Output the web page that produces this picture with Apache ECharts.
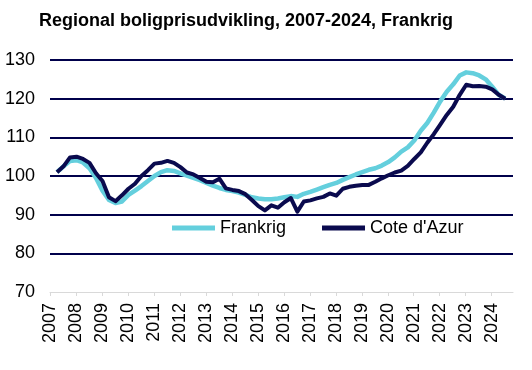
<!DOCTYPE html>
<html>
<head>
<meta charset="utf-8">
<script src="https://cdn.jsdelivr.net/npm/echarts@6/dist/echarts.min.js"></script>
<style>
html,body{margin:0;padding:0;background:#fff;}
#chart{width:532px;height:370px;}
</style>
</head>
<body>
<div id="chart"></div>
<script>
// Quarters 2007K1 .. 2024K2
const years = [2007,2008,2009,2010,2011,2012,2013,2014,2015,2016,2017,2018,2019,2020,2021,2022,2023,2024];
const quarters = [];
for (const y of years) for (let q = 1; q <= 4; q++) if (!(y === 2024 && q > 2)) quarters.push(y + 'K' + q);

const frankrig = [
  101.0,102.5,103.9,104.1,103.5,102.0,99.5,96.2,93.8,93.0,
  93.4,95.1,96.2,97.4,98.7,100.0,101.0,101.5,101.3,100.7,
  100.1,99.5,98.9,98.2,97.5,96.9,96.4,96.1,95.7,95.1,
  94.5,94.2,94.0,94.0,94.2,94.5,94.8,94.6,95.4,95.9,
  96.5,97.1,97.7,98.2,99.0,99.7,100.4,101.0,101.6,102.0,
  102.7,103.6,104.8,106.3,107.4,109.2,111.7,113.7,116.4,119.3,
  121.8,123.7,126.0,126.8,126.6,126.0,125.0,123.1,121.0,120.0
];
const coteDAzur = [
  101.0,102.5,104.8,105.0,104.4,103.4,100.7,98.7,94.5,93.5,
  95.0,96.7,98.0,100.0,101.5,103.2,103.4,103.9,103.4,102.3,
  100.9,100.4,99.5,98.5,98.4,99.3,96.8,96.4,96.1,95.3,
  93.8,92.2,91.1,92.4,91.8,93.2,94.3,90.8,93.4,93.7,
  94.2,94.6,95.5,94.9,96.7,97.2,97.5,97.7,97.7,98.5,
  99.4,100.2,100.9,101.4,102.6,104.4,106.1,108.6,110.8,113.3,
  115.8,117.9,121.0,123.6,123.2,123.3,123.1,122.4,121.0,120.0
];
const yTicks = [70,80,90,100,110,120,130];

function qTime(label) {
  const y = parseInt(label.slice(0,4), 10);
  const q = parseInt(label.slice(5), 10);
  return y + (q - 1) / 4 + 0.27;
}
const pairs = vals => quarters.map((q, i) => [qTime(q), vals[i]]);

const chart = echarts.init(document.getElementById('chart'), null, {renderer: 'canvas'});
const FONT = 'Liberation Sans, Arial, sans-serif';
chart.setOption({
  animation: false,
  backgroundColor: '#ffffff',
  title: {
    text: 'Regional boligprisudvikling, 2007-2024, Frankrig',
    left: 39, top: 12, padding: 0,
    textStyle: {fontFamily: FONT, fontSize: 18, fontWeight: 'bold', color: '#000'}
  },
  legend: {
    left: 172, top: 219, padding: 0,
    icon: 'rect',
    itemWidth: 43, itemHeight: 5, itemGap: 36,
    textStyle: {fontFamily: FONT, fontSize: 18, color: '#000', padding: [0,0,0,0]},
    data: ['Frankrig', "Cote d'Azur"]
  },
  grid: {left: 50, right: 19, top: 60, bottom: 78},
  xAxis: {
    type: 'value', min: 2007, max: 2024.82,
    splitLine: {show: false},
    axisLine: {show: true, lineStyle: {color: '#D9D9D9', width: 1}},
    axisTick: {show: true, inside: false, length: 4, customValues: years, lineStyle: {color: '#D9D9D9'}},
    axisLabel: {rotate: 90, margin: 11, customValues: years, formatter: v => String(v),
                fontFamily: FONT, fontSize: 18, color: '#000'},
    z: 5
  },
  yAxis: {
    type: 'value', min: 70, max: 130, interval: 10,
    axisLine: {show: false}, axisTick: {show: false},
    axisLabel: {margin: 15, customValues: yTicks, fontFamily: FONT, fontSize: 18, color: '#000'},
    splitLine: {show: true, showMinLine: false, lineStyle: {color: '#00004B', width: 2}}
  },
  series: [
    {name: 'Frankrig', type: 'line', data: pairs(frankrig), symbol: 'none',
     lineStyle: {width: 4.5, color: '#64CFDD', join: 'round'}, itemStyle: {color: '#64CFDD'}},
    {name: "Cote d'Azur", type: 'line', data: pairs(coteDAzur), symbol: 'none',
     lineStyle: {width: 4, color: '#0A0A4E', join: 'round'}, itemStyle: {color: '#0A0A4E'}}
  ]
});
</script>
</body>
</html>
